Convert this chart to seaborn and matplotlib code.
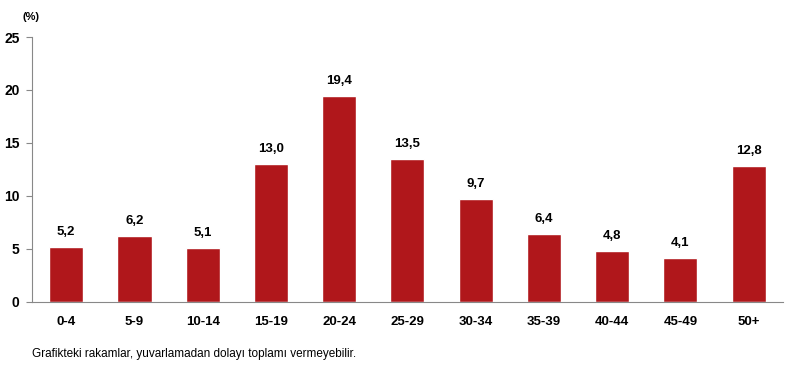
import pandas as pd
import matplotlib.pyplot as plt
import seaborn as sns
import numpy as np

sns.set_theme(style="white")
plt.rcParams['font.family'] = ['Liberation Sans', 'DejaVu Sans']

groups = ['0-4', '5-9', '10-14', '15-19', '20-24', '25-29', '30-34',
          '35-39', '40-44', '45-49', '50+']
values = [5.2, 6.2, 5.1, 13.0, 19.4, 13.5, 9.7, 6.4, 4.8, 4.1, 12.8]
yticks = [0, 5, 10, 15, 20, 25]

df = pd.DataFrame({'group': groups, 'value': values})

fig = plt.figure(figsize=(8.02, 3.70), dpi=100)
ax = fig.add_axes([0.040, 0.184, 0.936, 0.716])
sns.barplot(data=df, x='group', y='value', color='#B0171B', width=0.5,
            saturation=1, ax=ax)

for i, v in enumerate(values):
    ax.text(i, v + 0.85, f'{v:.1f}'.replace('.', ','), ha='center', va='bottom',
            fontsize=9.5, fontweight='bold', color='black')

ax.set_ylim(0, 25)
ax.set_xlim(-0.5, len(groups) - 0.5)
ax.set_yticks(yticks)
ax.set_yticklabels([str(t) for t in yticks], fontsize=10, fontweight='bold')
ax.set_xticks(range(len(groups)))
ax.set_xticklabels(groups, fontsize=9.5, fontweight='bold')
ax.set_xticks(np.arange(-0.5, len(groups), 1), minor=True)
ax.tick_params(axis='x', which='major', length=0, pad=10, labelcolor='black')
ax.tick_params(axis='x', which='minor', length=4, color='#888888', width=0.8)
ax.tick_params(axis='y', length=4, color='#888888', width=0.8, pad=5, left=True,
               labelcolor='black')
ax.set_xlabel('')
ax.set_ylabel('')
for s in ['top', 'right']:
    ax.spines[s].set_visible(False)
for s in ['left', 'bottom']:
    ax.spines[s].set_color('#888888')
    ax.spines[s].set_linewidth(0.8)

fig.text(0.028, 0.945, '(%)', fontsize=8, fontweight='bold', color='black')
fig.text(0.040, 0.035, 'Grafikteki rakamlar, yuvarlamadan dolayı toplamı vermeyebilir.',
         fontsize=8.5, color='black')

plt.savefig('out.png', dpi=100)
